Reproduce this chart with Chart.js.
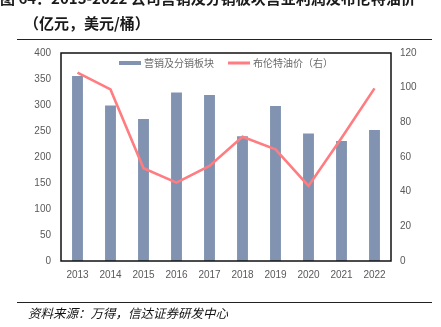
<!DOCTYPE html>
<html>
<head>
<meta charset="utf-8">
<script src="https://cdn.jsdelivr.net/npm/chart.js@4/dist/chart.umd.min.js"></script>
<style>
  html, body { margin: 0; padding: 0; background: #fff; }
  #wrap { position: relative; width: 441px; height: 327px; overflow: hidden; }
  #c { position: absolute; left: 0; top: 0; }
  .title { position: absolute; font-family: "Noto Sans CJK SC", sans-serif; font-weight: bold; font-size: 15px; color: #1a1a1a; white-space: nowrap; line-height: 1; }
  #t1 { left: 0; top: -10px; }
  #t2 { left: 24px; top: 15px; }
  .rule { position: absolute; left: 17px; width: 415px; height: 1px; background: #222; }
  #r1 { top: 39px; }
  #r2 { top: 302px; }
  #src { position: absolute; left: 28px; top: 305px; font-family: "Noto Sans CJK SC", sans-serif; font-style: italic; font-size: 12.5px; color: #111; white-space: nowrap; line-height: 1.2; }
</style>
</head>
<body>
<div id="wrap">
  <canvas id="c" width="441" height="327"></canvas>
  <div class="title" id="t1">图 64：2013-2022 公司营销及分销板块营业利润及布伦特油价</div>
  <div class="title" id="t2">（亿元，美元/桶）</div>
  <div class="rule" id="r1"></div>
  <div class="rule" id="r2"></div>
  <div id="src">资料来源：万得，信达证券研发中心</div>
</div>
<script>
// Years on the category axis
const years = ['2013', '2014', '2015', '2016', '2017', '2018', '2019', '2020', '2021', '2022'];
// Marketing & distribution segment operating profit (亿元, left axis)
const segmentProfit = [356, 299, 273, 324, 319, 240, 298, 245, 231, 252];
// Brent crude price (美元/桶, right axis)
const brentPrice = [108.7, 99.0, 53.5, 45.2, 54.8, 71.7, 64.4, 43.3, 70.9, 99.6];

const barLabel = '营销及分销板块';
const lineLabel = '布伦特油价（右）';

const tickFont = { family: '"Liberation Sans", sans-serif', size: 10 };
const tickColor = '#595959';

// Black frame around the plotting area
const framePlugin = {
  id: 'frame',
  afterDatasetsDraw(chart) {
    const { ctx, chartArea: a } = chart;
    ctx.save();
    ctx.strokeStyle = '#111';
    ctx.lineWidth = 1.5;
    ctx.strokeRect(a.left, a.top, a.right - a.left, a.bottom - a.top);
    ctx.restore();
  }
};

// Legend drawn inside the top of the plotting area, centred
const innerLegend = {
  id: 'innerLegend',
  afterDraw(chart) {
    const { ctx, chartArea: a } = chart;
    const ds = chart.data.datasets;
    ctx.save();
    ctx.font = '10px "Noto Sans CJK SC", sans-serif';
    ctx.textBaseline = 'middle';
    const sw = 22, gap = 3, itemGap = 14;
    const widths = ds.map(d => sw + gap + ctx.measureText(d.label).width);
    const total = widths.reduce((s, w) => s + w, 0) + itemGap * (ds.length - 1);
    let x = (a.left + a.right) / 2 - total / 2;
    const y = a.top + 10;
    ds.forEach((d, i) => {
      ctx.fillStyle = d.type === 'line' ? d.borderColor : d.backgroundColor;
      if (d.type === 'line') ctx.fillRect(x, y - 1.5, sw, 3);
      else ctx.fillRect(x, y - 2, sw, 4);
      ctx.fillStyle = '#6a6a6a';
      ctx.fillText(d.label, x + sw + gap, y);
      x += widths[i] + itemGap;
    });
    ctx.restore();
  }
};

new Chart(document.getElementById('c'), {
  data: {
    labels: years,
    datasets: [
      {
        type: 'bar',
        label: barLabel,
        data: segmentProfit,
        yAxisID: 'y',
        backgroundColor: '#8193b0',
        categoryPercentage: 1,
        barPercentage: 0.33,
        order: 1
      },
      {
        type: 'line',
        label: lineLabel,
        data: brentPrice,
        yAxisID: 'y1',
        borderColor: '#ff7c80',
        backgroundColor: '#ff7c80',
        borderWidth: 2.6,
        pointRadius: 0,
        tension: 0,
        order: 0
      }
    ]
  },
  options: {
    responsive: false,
    animation: false,
    layout: { padding: { left: 0, right: 0, top: 53, bottom: 44 } },
    plugins: { legend: { display: false }, tooltip: { enabled: false } },
    scales: {
      x: {
        grid: { display: false, drawTicks: false },
        border: { display: false },
        ticks: { font: tickFont, color: tickColor, padding: 8, maxRotation: 0 },
        afterFit(s) { s.height = 22; }
      },
      y: {
        position: 'left',
        min: 0, max: 400,
        grid: { display: false, drawTicks: false },
        border: { display: false },
        ticks: { stepSize: 50, font: tickFont, color: tickColor, padding: 10 },
        afterFit(s) { s.width = 61; }
      },
      y1: {
        position: 'right',
        min: 0, max: 120,
        grid: { display: false, drawTicks: false },
        border: { display: false },
        ticks: { stepSize: 20, font: tickFont, color: tickColor, padding: 9 },
        afterFit(s) { s.width = 50; }
      }
    }
  },
  plugins: [framePlugin, innerLegend]
});
</script>
</body>
</html>
